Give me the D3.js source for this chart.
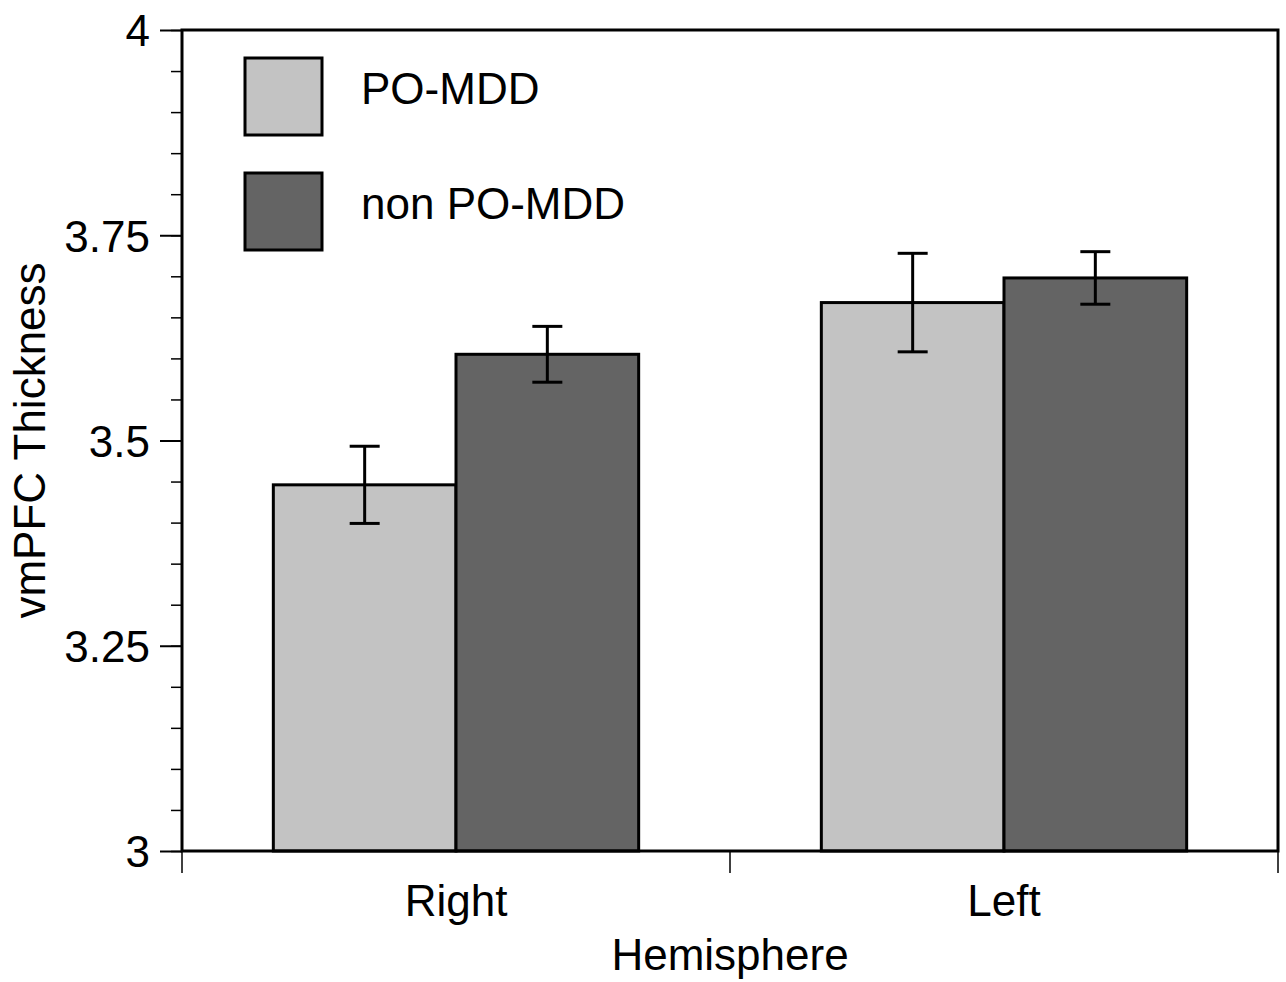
<!DOCTYPE html>
<html>
<head>
<meta charset="utf-8">
<script src="https://d3js.org/d3.v7.min.js"></script>
<style>
  body { margin: 0; background: #fff; }
  text { font-family: "Liberation Sans", Arial, Helvetica, sans-serif; fill: #000; }
</style>
</head>
<body>
<div id="chart"></div>
<script>
// data
var hemispheres = ["Right", "Left"];
var groups = ["PO-MDD", "non PO-MDD"];
var meanPO = [3.446, 3.668];
var meanNon = [3.605, 3.698];
var errPO = [0.047, 0.060];
var errNon = [0.034, 0.032];
var yTicks = [3, 3.25, 3.5, 3.75, 4];
var yTickLabels = ["3", "3.25", "3.5", "3.75", "4"];

var colors = d3.scaleOrdinal().domain(groups).range(["#c3c3c3", "#646464"]);

var width = 1286, height = 982;
var margin = {top: 30, right: 8, bottom: 131, left: 182};
var plotW = width - margin.left - margin.right,
    plotH = height - margin.top - margin.bottom;

var svg = d3.select("#chart").append("svg")
    .attr("width", width)
    .attr("height", height);

var g = svg.append("g")
    .attr("transform", "translate(" + margin.left + "," + margin.top + ")");

var y = d3.scaleLinear().domain([3, 4]).range([plotH, 0]);

var x0 = d3.scaleBand().domain(hemispheres).range([0, plotW])
    .paddingInner(1 / 3).paddingOuter(1 / 6);
var x1 = d3.scaleBand().domain(groups).range([0, x0.bandwidth()]);

// build rows from arrays
var rows = [];
hemispheres.forEach(function (h, i) {
    rows.push({hemi: h, group: groups[0], mean: meanPO[i], err: errPO[i]});
    rows.push({hemi: h, group: groups[1], mean: meanNon[i], err: errNon[i]});
});

// bars
g.selectAll("rect.bar")
    .data(rows)
    .enter().append("rect")
    .attr("class", "bar")
    .attr("x", function (d) { return x0(d.hemi) + x1(d.group); })
    .attr("y", function (d) { return y(d.mean); })
    .attr("width", x1.bandwidth())
    .attr("height", function (d) { return plotH - y(d.mean); })
    .style("fill", function (d) { return colors(d.group); })
    .style("stroke", "#000")
    .style("stroke-width", 3);

// error bars
var eb = g.selectAll("g.err")
    .data(rows)
    .enter().append("g")
    .attr("class", "err")
    .attr("transform", function (d) {
        return "translate(" + (x0(d.hemi) + x1(d.group) + x1.bandwidth() / 2) + ",0)";
    });
eb.append("line")
    .attr("y1", function (d) { return y(d.mean + d.err); })
    .attr("y2", function (d) { return y(d.mean - d.err); });
eb.append("line")
    .attr("x1", -15).attr("x2", 15)
    .attr("y1", function (d) { return y(d.mean + d.err); })
    .attr("y2", function (d) { return y(d.mean + d.err); });
eb.append("line")
    .attr("x1", -15).attr("x2", 15)
    .attr("y1", function (d) { return y(d.mean - d.err); })
    .attr("y2", function (d) { return y(d.mean - d.err); });
eb.selectAll("line").style("stroke", "#000").style("stroke-width", 3);

// frame
g.append("rect")
    .attr("width", plotW).attr("height", plotH)
    .style("fill", "none").style("stroke", "#000").style("stroke-width", 3);

// y axis, minor ticks every 0.05
var yMinor = d3.range(3, 4.0001, 0.05);
g.append("g")
    .call(d3.axisLeft(y).tickValues(yMinor).tickSize(11).tickFormat(""))
    .call(function (s) {
        s.select(".domain").remove();
        s.selectAll("line").style("stroke", "#000").style("stroke-width", 1.5);
    });
g.append("g")
    .call(d3.axisLeft(y).tickValues(yTicks).tickSize(22).tickPadding(10)
        .tickFormat(function (d, i) { return yTickLabels[i]; }))
    .call(function (s) {
        s.select(".domain").remove();
        s.selectAll("line").style("stroke", "#000").style("stroke-width", 2);
        s.selectAll("text").style("font-size", "44px").attr("dy", "0.36em");
    });

// x axis: boundary ticks + centred labels
var boundaries = [0, plotW / 2, plotW];
g.selectAll("line.xtick")
    .data(boundaries)
    .enter().append("line")
    .attr("x1", function (d) { return d; }).attr("x2", function (d) { return d; })
    .attr("y1", plotH).attr("y2", plotH + 22)
    .style("stroke", "#000").style("stroke-width", 1.5);

g.append("g")
    .attr("transform", "translate(0," + plotH + ")")
    .call(d3.axisBottom(x0).tickSize(0).tickPadding(34))
    .call(function (s) {
        s.select(".domain").remove();
        s.selectAll("text").style("font-size", "44px").attr("dy", "0.71em");
    });

// axis titles
g.append("text")
    .attr("x", plotW / 2).attr("y", plotH + 119)
    .attr("text-anchor", "middle")
    .style("font-size", "44px")
    .text("Hemisphere");

g.append("text")
    .attr("transform", "translate(" + (45 - margin.left) + "," + (plotH / 2) + ") rotate(-90)")
    .attr("text-anchor", "middle")
    .style("font-size", "44px")
    .text("vmPFC Thickness");

// legend
var legend = g.selectAll("g.legend")
    .data(groups)
    .enter().append("g")
    .attr("class", "legend")
    .attr("transform", function (d, i) { return "translate(63," + (28 + i * 115) + ")"; });
legend.append("rect")
    .attr("width", 77).attr("height", 77)
    .style("fill", function (d) { return colors(d); })
    .style("stroke", "#000").style("stroke-width", 3);
legend.append("text")
    .attr("x", 116).attr("y", 46)
    .style("font-size", "44px")
    .text(function (d) { return d; });
</script>
</body>
</html>
